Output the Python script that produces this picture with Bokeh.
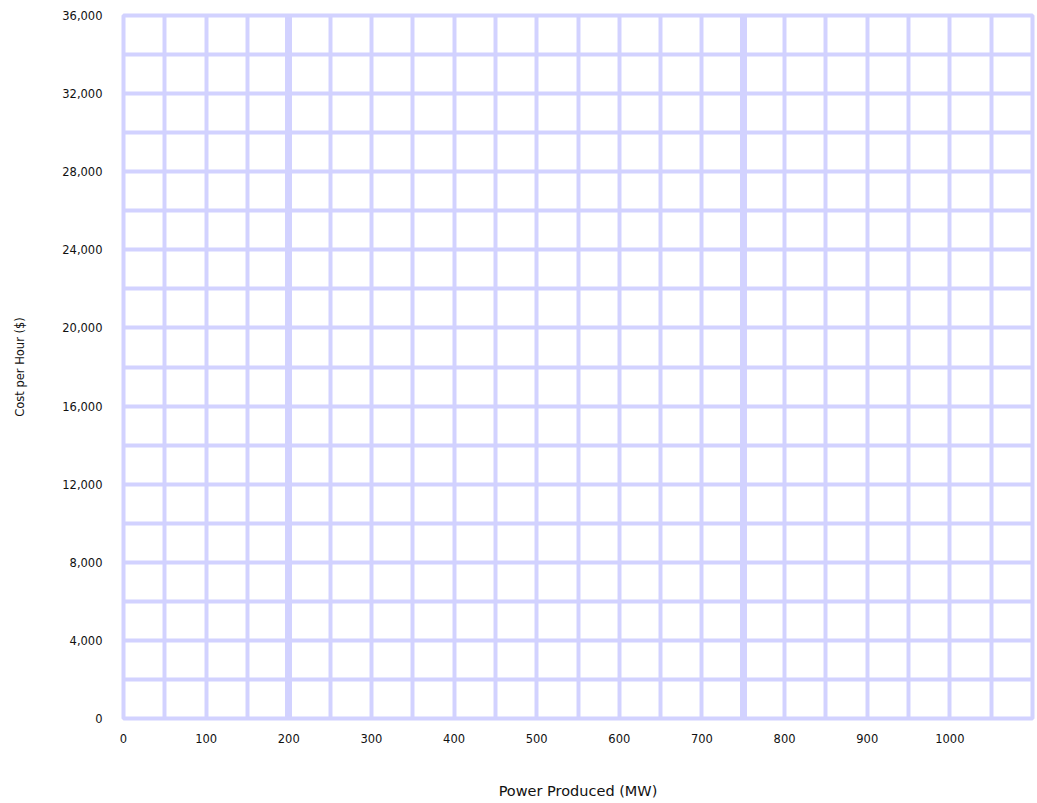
from bokeh.plotting import figure
from bokeh.models import FixedTicker, NumeralTickFormatter, Grid, Range1d
from bokeh.embed import file_html
from bokeh.resources import INLINE

# data
x_ticks = [0, 100, 200, 300, 400, 500, 600, 700, 800, 900, 1000]
y_ticks = [0, 4000, 8000, 12000, 16000, 20000, 24000, 28000, 32000, 36000]
x_grid = list(range(0, 1101, 50))
y_grid = list(range(0, 36001, 2000))
x_heavy = [200, 750]
x_min, x_max = 0, 1100
y_min, y_max = 0, 36000
x_title = "Power Produced (MW)"
y_title = "Cost per Hour ($)"

GRID = "#d2d2ff"
FONT = "DejaVu Sans"

p = figure(width=1037, height=803, output_backend="svg", toolbar_location=None,
           x_range=Range1d(x_min, x_max), y_range=Range1d(y_min, y_max),
           min_border_left=123, min_border_right=5, min_border_top=15, min_border_bottom=85)
p.frame_width = 909
p.frame_height = 703

p.outline_line_color = GRID
p.outline_line_width = 4

p.xgrid.ticker = FixedTicker(ticks=x_grid)
p.ygrid.ticker = FixedTicker(ticks=y_grid)
for g in (p.xgrid, p.ygrid):
    g.grid_line_color = GRID
    g.grid_line_width = 4
    g.grid_line_alpha = 1

heavy = Grid(dimension=0, ticker=FixedTicker(ticks=x_heavy), grid_line_color=GRID, grid_line_width=7)
p.add_layout(heavy)

p.xaxis.ticker = FixedTicker(ticks=x_ticks)
p.yaxis.ticker = FixedTicker(ticks=y_ticks)
p.yaxis.formatter = NumeralTickFormatter(format="0,0")

for ax in (p.xaxis, p.yaxis):
    ax.axis_line_color = None
    ax.major_tick_line_color = None
    ax.minor_tick_line_color = None
    ax.major_label_text_font = FONT
    ax.major_label_text_font_size = "11.5px"
    ax.major_label_text_color = "#111111"
    ax.axis_label_text_font = FONT
    ax.axis_label_text_font_style = "normal"
    ax.axis_label_text_color = "#111111"

p.xaxis.major_label_standoff = 9
p.yaxis.major_label_standoff = 15
p.xaxis.axis_label = x_title
p.xaxis.axis_label_text_font_size = "14.5px"
p.xaxis.axis_label_standoff = 37
p.yaxis.axis_label = y_title
p.yaxis.axis_label_text_font_size = "11.5px"
p.yaxis.axis_label_standoff = 32

open("out.html", "w").write(file_html(p, INLINE))
